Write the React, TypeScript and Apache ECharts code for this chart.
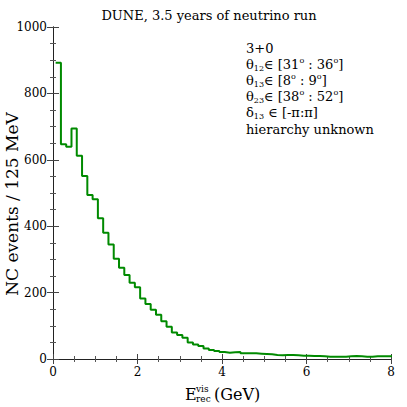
import React, { useEffect, useRef } from "react";
import * as echarts from "echarts";

// Bin width 0.125 GeV; bin centres at 0.125 * k
const binWidth = 0.125;
const binCenters: number[] = Array.from({ length: 64 }, (_, i) => (i + 1) * 0.125);
const ncEvents: number[] = [
  892, 647, 639, 694, 612, 551, 494, 481, 424, 380,
  345, 302, 275, 253, 230, 216, 182, 166, 148, 133,
  114, 97, 80, 72, 64, 50, 44, 39, 32, 27,
  24, 21, 19, 20, 21, 17, 17, 17, 16, 15,
  14, 12, 11, 12, 12, 11, 10, 10, 9, 9,
  8, 7, 7, 7, 7, 8, 9, 8, 7, 7,
  8, 8, 8, 8,
];
const xTicks: number[] = [0, 2, 4, 6, 8];
const yTicks: number[] = [0, 200, 400, 600, 800, 1000];
const titleText = "DUNE, 3.5 years of neutrino run";
const yLabel = "NC events / 125 MeV";
const infoLines: string[] = [
  "{t|3+0}",
  "{t|θ}{s|12}{t|∈ [31}{o|o}{t| : 36}{o|o}{t|]}",
  "{t|θ}{s|13}{t|∈ [8}{o|o}{t| : 9}{o|o}{t|]}",
  "{t|θ}{s|23}{t|∈ [38}{o|o}{t| : 52}{o|o}{t|]}",
  "{t|δ}{s|13}{t| ∈ [-π:π]}",
  "{t|hierarchy unknown}",
];

const FONT = "DejaVu Serif";

export default function App() {
  const ref = useRef<HTMLDivElement>(null);
  useEffect(() => {
    if (!ref.current) return;
    const chart = echarts.init(ref.current, null, { renderer: "svg" });
    const stepData: number[][] = binCenters.map((c, i) => [c - binWidth / 2, ncEvents[i]]);
    stepData.push([binCenters[binCenters.length - 1] + binWidth / 2, ncEvents[ncEvents.length - 1]]);

    const axisCommon = {
      axisLine: { show: true, lineStyle: { color: "#222", width: 1 } },
      axisTick: { show: true, inside: true, length: 5, lineStyle: { color: "#444" } },
      minorTick: { show: true, splitNumber: 4, length: 3, lineStyle: { color: "#555" } },
      splitLine: { show: false },
      minorSplitLine: { show: false },
    };
    const rich = {
      t: { fontFamily: FONT, fontSize: 13, color: "#000", lineHeight: 16 },
      s: { fontFamily: FONT, fontSize: 8, color: "#000", verticalAlign: "bottom", lineHeight: 9 },
      o: { fontFamily: FONT, fontSize: 8, color: "#000", verticalAlign: "top", lineHeight: 8 },
    };
    const yFmt = (v: number) => String(v);

    chart.setOption({
      animation: false,
      backgroundColor: "#fff",
      grid: { left: 53, right: 16, top: 27, bottom: 48, containLabel: false },
      xAxis: [
        {
          type: "value",
          position: "bottom",
          min: xTicks[0],
          max: xTicks[xTicks.length - 1],
          interval: 2,
          ...axisCommon,
          axisLabel: { show: true, fontFamily: FONT, fontSize: 12, color: "#000", margin: 7 },
        },
        {
          type: "value",
          position: "top",
          min: xTicks[0],
          max: xTicks[xTicks.length - 1],
          interval: 2,
          ...axisCommon,
          axisLabel: { show: false },
        },
      ],
      yAxis: [
        {
          type: "value",
          position: "left",
          min: yTicks[0],
          max: yTicks[yTicks.length - 1],
          interval: 200,
          ...axisCommon,
          axisTick: { show: true, inside: true, length: 6, lineStyle: { color: "#444" } },
          axisLabel: { show: true, fontFamily: FONT, fontSize: 12, color: "#000", margin: 6, formatter: yFmt },
        },
        {
          type: "value",
          position: "right",
          min: yTicks[0],
          max: yTicks[yTicks.length - 1],
          interval: 200,
          ...axisCommon,
          axisTick: { show: true, inside: true, length: 6, lineStyle: { color: "#444" } },
          axisLabel: { show: false },
        },
      ],
      series: [
        {
          type: "line",
          step: "end",
          data: stepData,
          showSymbol: false,
          symbol: "none",
          clip: true,
          lineStyle: { color: "#008a00", width: 2 },
          xAxisIndex: 0,
          yAxisIndex: 0,
        },
      ],
      graphic: [
        {
          type: "text",
          x: 209,
          y: 15,
          style: { text: titleText, font: `13px "${FONT}"`, fill: "#000", align: "center", verticalAlign: "middle" },
        },
        {
          type: "text",
          x: 12,
          y: 204,
          rotation: Math.PI / 2,
          style: { text: yLabel, font: `17px "${FONT}"`, fill: "#000", align: "center", verticalAlign: "middle" },
        },
        {
          type: "text",
          x: 185,
          y: 394,
          style: { text: "E", font: `16px "${FONT}"`, fill: "#000", align: "left", verticalAlign: "middle" },
        },
        {
          type: "text",
          x: 196,
          y: 389,
          style: { text: "vis", font: `9px "${FONT}"`, fill: "#000", align: "left", verticalAlign: "middle" },
        },
        {
          type: "text",
          x: 196,
          y: 399,
          style: { text: "rec", font: `9px "${FONT}"`, fill: "#000", align: "left", verticalAlign: "middle" },
        },
        {
          type: "text",
          x: 214,
          y: 394,
          style: { text: "(GeV)", font: `16px "${FONT}"`, fill: "#000", align: "left", verticalAlign: "middle" },
        },
        ...infoLines.map((line, i) => ({
          type: "text",
          x: 246,
          y: 48 + 16.2 * i,
          style: { text: line, rich, fill: "#000", align: "left", verticalAlign: "middle" },
        })),
      ],
    });
    return () => chart.dispose();
  }, []);
  return <div ref={ref} style={{ width: 407, height: 407, position: "absolute", left: 0, top: 0 }} />;
}
